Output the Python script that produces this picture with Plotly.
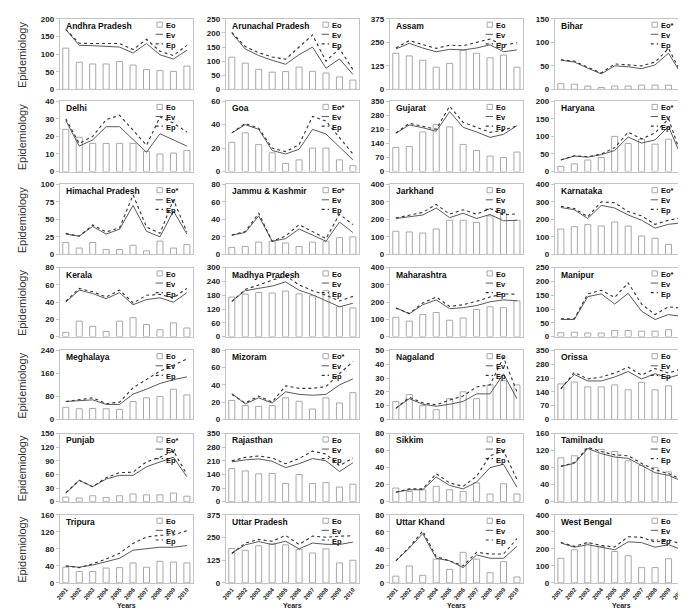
import plotly.graph_objects as go

years = [str(y) for y in range(2001, 2011)]

states = ["Andhra Pradesh", "Arunachal Pradesh", "Assam", "Bihar",
          "Delhi", "Goa", "Gujarat", "Haryana",
          "Himachal Pradesh", "Jammu & Kashmir", "Jarkhand", "Karnataka",
          "Kerala", "Madhya Pradesh", "Maharashtra", "Manipur",
          "Meghalaya", "Mizoram", "Nagaland", "Orissa",
          "Punjab", "Rajasthan", "Sikkim", "Tamilnadu",
          "Tripura", "Uttar Pradesh", "Uttar Khand", "West Bengal"]

eo_labels = ["Eo", "Eo", "Eo", "Eo*",
             "Eo", "Eo*", "Eo", "Eo*",
             "Eo*", "Eo*", "Eo", "Eo*",
             "Eo", "Eo", "Eo", "Eo*",
             "Eo", "Eo*", "Eo", "Eo",
             "Eo*", "Eo", "Eo", "Eo",
             "Eo", "Eo", "Eo", "Eo"]

y_max = [200, 250, 375, 150,
         40, 60, 350, 200,
         100, 80, 400, 400,
         80, 300, 400, 250,
         240, 80, 50, 350,
         150, 350, 80, 160,
         160, 375, 80, 400]

y_step = [50, 50, 125, 50,
          10, 20, 70, 50,
          25, 20, 100, 100,
          20, 60, 100, 50,
          80, 20, 10, 70,
          30, 70, 20, 40,
          40, 125, 20, 100]

eo_values = [
    [117, 77, 72, 72, 79, 69, 56, 53, 51, 66],
    [114, 93, 71, 61, 63, 79, 64, 58, 44, 33],
    [192, 178, 155, 118, 138, 208, 192, 168, 182, 118],
    [12, 11, 7, 4, 7, 7, 9, 9, 9, 11],
    [24, 19.5, 16, 16, 16, 16, 11.5, 10, 10.5, 12],
    [25, 33, 23, 16, 7, 10, 20, 20, 10, 5],
    [120, 125, 197, 235, 222, 135, 105, 77, 70, 97],
    [15, 22, 33, 40, 100, 80, 92, 78, 92, 40],
    [17, 9, 17, 7, 7, 13, 5, 19, 9, 14],
    [8, 9, 14, 15, 13, 9, 14, 15, 19, 20],
    [132, 128, 122, 145, 195, 195, 183, 220, 235, 195],
    [145, 158, 170, 162, 185, 162, 105, 92, 57, 68],
    [5, 18, 12, 6, 18, 22, 14, 8, 16, 10],
    [172, 185, 192, 190, 198, 186, 178, 200, 130, 125],
    [112, 90, 128, 140, 95, 108, 157, 173, 168, 208],
    [14, 16, 13, 13, 22, 22, 20, 20, 25, 20],
    [42, 37, 38, 37, 35, 62, 75, 80, 105, 85],
    [22, 16, 15, 16, 25, 21, 12, 25, 19, 31],
    [13, 18, 10, 7, 15, 20, 15, 25, 28, 25],
    [180, 190, 165, 165, 175, 150, 188, 150, 170, 140],
    [10, 8, 13, 9, 13, 17, 15, 15, 19, 12],
    [170, 158, 143, 145, 93, 140, 93, 98, 75, 90],
    [16, 12, 14, 18, 14, 12, 22, 9, 21, 9],
    [103, 108, 125, 123, 118, 96, 85, 80, 70, 70],
    [37, 27, 27, 35, 36, 47, 37, 51, 49, 47],
    [190, 180, 205, 215, 210, 185, 165, 188, 110, 125],
    [8, 20, 9, 28, 16, 36, 28, 12, 25, 7],
    [145, 195, 235, 215, 185, 160, 90, 90, 142, 115],
]

ev_values = [
    [170, 125, 124, 121, 120, 103, 130, 98, 86, 111],
    [200, 143, 120, 103, 89, 123, 150, 75, 108, 53],
    [215, 245, 220, 200, 213, 210, 220, 237, 200, 210],
    [62, 58, 45, 33, 50, 48, 44, 52, 77, 30],
    [29, 14.5, 18, 25.5, 25.5, 18, 11, 21.5, 18, 14.5],
    [33, 40, 36, 18, 15, 19, 36, 32, 21, 10],
    [190, 232, 218, 200, 298, 220, 197, 170, 185, 228],
    [33, 44, 41, 48, 60, 98, 81, 90, 128, 38],
    [29, 26, 40, 29, 36, 70, 33, 25, 62, 29],
    [22, 25, 44, 15, 18, 29, 22, 15, 37, 25],
    [205, 215, 225, 265, 210, 235, 205, 228, 192, 195],
    [268, 255, 205, 280, 265, 225, 195, 150, 172, 180],
    [40, 54, 50, 44, 51, 37, 43, 45, 40, 51],
    [155, 200, 210, 220, 238, 202, 182, 155, 130, 145],
    [168, 132, 185, 213, 162, 168, 180, 202, 213, 208],
    [62, 62, 145, 155, 118, 157, 92, 62, 80, 73],
    [62, 65, 68, 52, 52, 88, 105, 125, 138, 148],
    [30, 18, 25, 19, 32, 29, 28, 29, 40, 47],
    [8, 15, 11, 9.5, 11, 13, 18.5, 18.5, 33, 15],
    [158, 228, 195, 195, 215, 243, 205, 232, 210, 232],
    [18, 47, 33, 50, 58, 58, 77, 88, 98, 55],
    [205, 215, 220, 208, 175, 195, 222, 210, 155, 200],
    [11, 14, 14, 29, 19, 15, 23, 40, 44, 17],
    [83, 90, 125, 113, 105, 102, 85, 68, 62, 48],
    [40, 37, 42, 50, 58, 77, 80, 84, 84, 88],
    [165, 210, 228, 212, 230, 188, 220, 213, 212, 225],
    [26, 41, 58, 29, 26, 18, 33, 29, 29, 43],
    [235, 210, 225, 210, 195, 242, 237, 210, 225, 195],
]

ep_values = [
    [170, 131, 130, 130, 130, 113, 142, 108, 96, 125],
    [202, 152, 130, 115, 107, 150, 193, 100, 145, 70],
    [220, 260, 238, 218, 235, 232, 250, 268, 235, 248],
    [63, 60, 47, 35, 54, 52, 50, 58, 87, 32],
    [30, 16, 20, 29.5, 32, 23.5, 15, 31, 27.5, 22.5],
    [33, 41, 37, 20, 17, 23, 47, 43, 29, 15],
    [192, 240, 225, 210, 325, 245, 220, 195, 205, 228],
    [33, 45, 42, 50, 68, 112, 93, 110, 150, 40],
    [30, 26, 42, 32, 38, 85, 39, 30, 78, 32],
    [22, 26, 47, 15, 21, 34, 26, 18, 46, 34],
    [208, 225, 240, 285, 230, 255, 230, 262, 225, 232],
    [275, 262, 215, 300, 295, 245, 220, 172, 195, 210],
    [41, 56, 52, 46, 54, 39, 48, 49, 45, 56],
    [152, 205, 225, 245, 265, 225, 200, 180, 155, 175],
    [165, 135, 195, 230, 175, 185, 205, 230, 248, 245],
    [65, 65, 155, 168, 142, 195, 118, 80, 108, 103],
    [62, 68, 75, 55, 60, 110, 140, 168, 188, 210],
    [29, 19, 27, 20, 39, 36, 36, 38, 53, 67],
    [8, 16, 12, 10.5, 14, 17, 23.5, 25, 45, 20],
    [155, 238, 205, 215, 235, 265, 225, 258, 235, 258],
    [20, 47, 33, 53, 64, 65, 88, 98, 112, 60],
    [210, 228, 235, 225, 195, 222, 260, 245, 185, 225],
    [11, 15, 15, 33, 22, 18, 30, 54, 60, 26],
    [83, 92, 128, 118, 110, 108, 90, 75, 66, 52],
    [40, 36, 45, 56, 70, 93, 108, 112, 113, 123],
    [162, 220, 240, 230, 262, 212, 258, 252, 258, 260],
    [26, 42, 61, 31, 26, 20, 36, 34, 34, 52],
    [238, 215, 238, 220, 212, 272, 268, 240, 255, 225],
]

W, H = 686, 608
FONT = "Liberation Sans, Arial, sans-serif"
col_left = [48, 215, 380, 546]
col_right = [182, 349, 514, 680]
row_top = [7, 90.5, 175, 259.5, 343.5, 428, 510.5]
row_bot = [78.5, 162, 246, 329.5, 413.5, 497, 579.5]

fig = go.Figure()
layout = {}
shapes = []
annotations = []
frame_col = "#c4c4c4"
LEG_FS = 7.5
LINE_H = 1.3 * LEG_FS
EP_COL = "#333333"

for i, st in enumerate(states):
    r, c = divmod(i, 4)
    n = i + 1
    sfx = "" if n == 1 else str(n)
    xa, ya = "x" + sfx, "y" + sfx
    fig.add_trace(go.Bar(x=years, y=eo_values[i], xaxis=xa, yaxis=ya, width=0.45,
                         marker=dict(color="white", line=dict(color="#a8a8a8", width=1)),
                         showlegend=False, name=eo_labels[i]))
    fig.add_trace(go.Scatter(x=years, y=ev_values[i], xaxis=xa, yaxis=ya, mode="lines",
                             line=dict(color="#5a5a5a", width=1), showlegend=False, name="Ev"))
    fig.add_trace(go.Scatter(x=years, y=ep_values[i], xaxis=xa, yaxis=ya, mode="lines",
                             line=dict(color=EP_COL, width=1.1, dash="dot"),
                             showlegend=False, name="Ep"))
    layout["xaxis" + sfx] = dict(
        domain=[col_left[c] / W, col_right[c] / W], anchor=ya, type="category",
        range=[-0.45, 9.45], showline=True, mirror=True, linecolor=frame_col, linewidth=1,
        showgrid=False, zeroline=False, showticklabels=(r == 6), tickangle=-50,
        tickfont=dict(size=6, family=FONT, color="#222", weight="bold"), ticks="")
    layout["yaxis" + sfx] = dict(
        domain=[1 - row_bot[r] / H, 1 - row_top[r] / H], anchor=xa,
        range=[0, y_max[i]], tick0=0, dtick=y_step[i], showline=True, mirror=True,
        linecolor=frame_col, linewidth=1, showgrid=False, zeroline=False,
        ticks="outside", ticklen=3, tickcolor=frame_col,
        tickfont=dict(size=8, family=FONT, color="#222", weight="bold"))

    xd, yd = xa + " domain", ya + " domain"
    ph = row_bot[r] - row_top[r]
    # panel title
    annotations.append(dict(text=st, xref=xd, yref=yd, x=0.04, y=0.9, xanchor="left",
                            yanchor="middle", showarrow=False, borderpad=0,
                            font=dict(size=8.5, family=FONT, color="#111", weight="bold")))
    # legend: one multi-line text block with hand-drawn keys
    top_off = 1.0
    annotations.append(dict(text=f"{eo_labels[i]}<br>Ev<br>Ep", xref=xd, yref=yd,
                            x=0.79, y=1 - top_off / ph, xanchor="left", yanchor="top",
                            align="left", showarrow=False, borderpad=0,
                            font=dict(size=LEG_FS, family=FONT, color="#111", weight="bold")))
    ly = [1 - (top_off + (k + 0.5) * LINE_H) / ph for k in range(3)]
    bx0, bx1 = 0.72, 0.775
    hh = 2.6 / ph
    shapes.append(dict(type="rect", xref=xd, yref=yd, x0=bx0 + 0.01, x1=bx1 - 0.005,
                       y0=ly[0] - hh, y1=ly[0] + hh,
                       line=dict(color="#a8a8a8", width=1), fillcolor="white"))
    shapes.append(dict(type="line", xref=xd, yref=yd, x0=bx0, x1=bx1, y0=ly[1], y1=ly[1],
                       line=dict(color="#5a5a5a", width=1)))
    shapes.append(dict(type="line", xref=xd, yref=yd, x0=bx0, x1=bx1, y0=ly[2], y1=ly[2],
                       line=dict(color=EP_COL, width=1.1, dash="dot")))

for r in range(7):
    yc = 1 - (row_top[r] + row_bot[r]) / 2 / H
    annotations.append(dict(text="Epidemiology", xref="paper", yref="paper", x=10 / W, y=yc,
                            xanchor="center", yanchor="middle", textangle=-90, showarrow=False,
                            font=dict(size=11, family=FONT, color="#333")))
for c in range(4):
    xc = (col_left[c] + col_right[c]) / 2 / W
    annotations.append(dict(text="Years", xref="paper", yref="paper", x=xc, y=1 - 602 / H,
                            xanchor="center", yanchor="middle", showarrow=False, borderpad=0,
                            font=dict(size=7, family=FONT, color="#222", weight="bold")))

fig.update_layout(width=W, height=H, margin=dict(l=0, r=0, t=0, b=0),
                  paper_bgcolor="white", plot_bgcolor="white", showlegend=False,
                  shapes=shapes, annotations=annotations, bargap=0.5, **layout)
fig.write_html("out.html")
